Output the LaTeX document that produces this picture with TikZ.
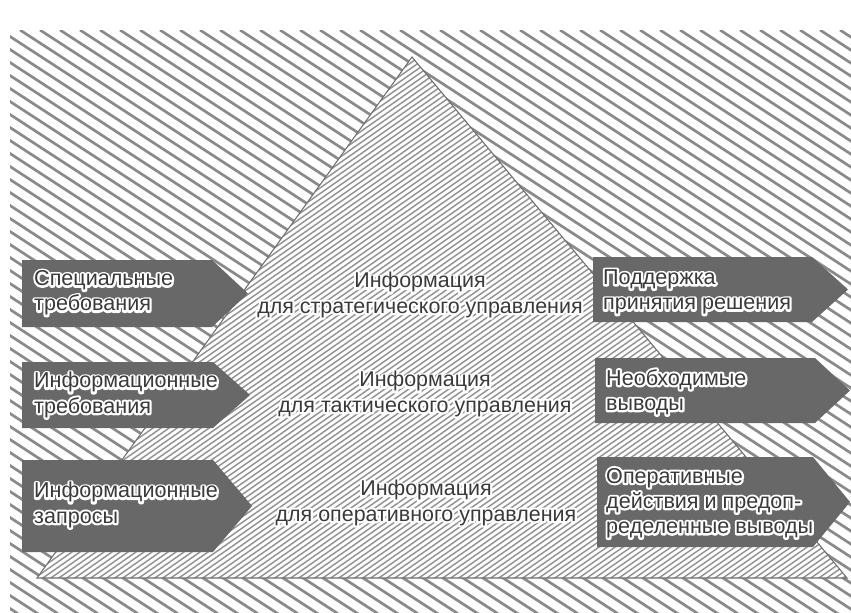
\documentclass[tikz,border=0pt]{standalone}
\usepackage{fontspec}
\setmainfont{Liberation Sans}
\definecolor{hatchgray}{HTML}{8A8A8A}
\definecolor{pyrgray}{HTML}{949494}
\definecolor{edgegray}{HTML}{6E6E6E}
\definecolor{tagfill}{HTML}{686868}
\definecolor{inkgray}{HTML}{3A3A3A}
\tikzset{
	bghatch/.style={draw=hatchgray, line width=2.3pt},
	pyrhatch/.style={draw=pyrgray, line width=1.25pt},
	pyredge/.style={draw=edgegray, line width=0.9pt, line join=miter},
	tagbox/.style={fill=tagfill},
	tagtext/.style={anchor=west, align=left, inner sep=0pt, text=inkgray,
		font=\fontsize{18.4}{21.5}\selectfont},
	lvltext/.style={align=center, inner sep=0pt, text=inkgray,
		font=\fontsize{18.3}{21.5}\selectfont}
}
% arrow tag: x left, y top, x body end, x tip, y bottom
\newcommand\tagarrow[5]{%
	\fill[tagbox] (#1,#2) -- (#3,#2) -- (#4,{(#2+#5)/2}) -- (#3,#5) -- (#1,#5) -- cycle;}
% text with a white halo (stroked white copy below)
\newcommand\htext[1]{{\color{white}\special{pdf:literal direct 2 Tr 3.6 w 1 J 1 j}\rlap{#1}\special{pdf:literal direct 0 Tr 0.4 w}}#1}

\begin{document}
\begin{tikzpicture}[x=0.03cm, y=-0.03cm]
	\useasboundingbox (0,0) rectangle (851,612);
	% background hatching
	\begin{scope}
		\clip (10,30) rectangle (851,612);
		\foreach \x in {-920,-900,...,860}
			\draw[bghatch] (\x,30) -- ++(1000,650);
	\end{scope}
	% pyramid
	\coordinate (apex) at (412,57);
	\coordinate (bl) at (37,578);
	\coordinate (br) at (847,578);
	\fill[white] (bl) -- (apex) -- (br) -- cycle;
	\begin{scope}
		\clip (bl) -- (apex) -- (br) -- cycle;
		\foreach \x in {80,88,...,1660}
			\draw[pyrhatch] (\x,20) -- ++(-900,630);
	\end{scope}
	\draw[pyredge] (bl) -- (apex) -- (br) -- cycle;
	% tags on the left
	\tagarrow{22}{260}{212}{248}{327}
	\tagarrow{22}{362}{213}{250}{428}
	\tagarrow{22}{460}{213}{252}{552}
	% tags on the right
	\tagarrow{593}{257}{812}{848}{322}
	\tagarrow{595}{358}{815}{850}{423}
	\tagarrow{597}{457}{813}{850}{547}
	% texts
	\node[tagtext] (spec) at (34,293) {\htext{Специальные}\\\htext{требования}};
	\node[tagtext] (itreb) at (34,395) {\htext{Информационные}\\\htext{требования}};
	\node[tagtext] (izap) at (34,505) {\htext{Информационные}\\\htext{запросы}};
	\node[lvltext] (strat) at (420,295) {\htext{Информация}\\\htext{для стратегического управления}};
	\node[lvltext] (takt) at (425,394) {\htext{Информация}\\\htext{для тактического управления}};
	\node[lvltext] (oper) at (426,503) {\htext{Информация}\\\htext{для оперативного управления}};
	\node[tagtext] (podd) at (603,292) {\htext{Поддержка}\\\htext{принятия решения}};
	\node[tagtext] (neob) at (606,392) {\htext{Необходимые}\\\htext{выводы}};
	\node[tagtext] (odei) at (606,503) {\htext{Оперативные}\\\htext{действия и предоп-}\\\htext{ределенные выводы}};
\end{tikzpicture}
\end{document}
